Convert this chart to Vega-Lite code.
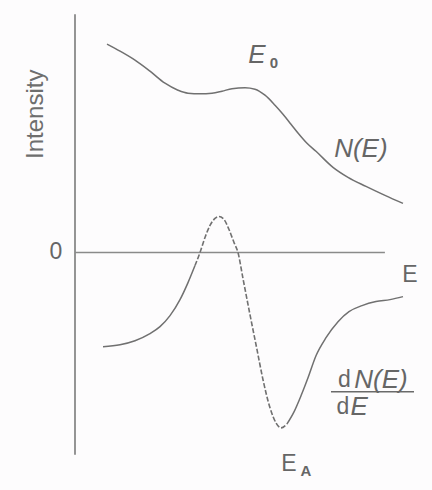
{
  "$schema": "https://vega.github.io/schema/vega-lite/v6.json",
  "width": 432,
  "height": 490,
  "padding": 0,
  "autosize": {"type": "none"},
  "background": "#fdfcfd",
  "config": {"view": {"stroke": null}},
  "datasets": {
    "spectrum": [
      {"E": 1.067, "I": 6.933}, {"E": 1.5, "I": 6.7}, {"E": 2.0, "I": 6.4},
      {"E": 2.5, "I": 6.033}, {"E": 3.0, "I": 5.633}, {"E": 3.433, "I": 5.4},
      {"E": 3.767, "I": 5.3}, {"E": 4.167, "I": 5.283}, {"E": 4.567, "I": 5.3},
      {"E": 4.9, "I": 5.367}, {"E": 5.233, "I": 5.45}, {"E": 5.667, "I": 5.483},
      {"E": 6.0, "I": 5.433}, {"E": 6.333, "I": 5.233}, {"E": 6.667, "I": 4.9},
      {"E": 6.933, "I": 4.6}, {"E": 7.2, "I": 4.267}, {"E": 7.467, "I": 3.933},
      {"E": 7.733, "I": 3.633}, {"E": 8.033, "I": 3.367}, {"E": 8.6, "I": 2.833},
      {"E": 9.1, "I": 2.5}, {"E": 9.7, "I": 2.2}, {"E": 10.333, "I": 1.9},
      {"E": 10.933, "I": 1.633}
    ],
    "derivative": [
      {"E": 0.933, "I": -3.133}, {"E": 1.5, "I": -3.067}, {"E": 2.0, "I": -2.933},
      {"E": 2.5, "I": -2.7}, {"E": 2.833, "I": -2.467}, {"E": 3.167, "I": -2.1},
      {"E": 3.5, "I": -1.567}, {"E": 3.767, "I": -1.0}, {"E": 4.0, "I": -0.433},
      {"E": 4.167, "I": 0}, {"E": 4.333, "I": 0.5}, {"E": 4.5, "I": 0.9},
      {"E": 4.667, "I": 1.133}, {"E": 4.8, "I": 1.2}, {"E": 4.967, "I": 1.1},
      {"E": 5.133, "I": 0.767}, {"E": 5.3, "I": 0.333}, {"E": 5.433, "I": 0},
      {"E": 5.6, "I": -0.867}, {"E": 5.833, "I": -2.067}, {"E": 6.067, "I": -3.233},
      {"E": 6.267, "I": -4.233}, {"E": 6.5, "I": -5.167}, {"E": 6.7, "I": -5.667},
      {"E": 6.867, "I": -5.833}, {"E": 7.067, "I": -5.7}, {"E": 7.3, "I": -5.3},
      {"E": 7.533, "I": -4.767}, {"E": 7.767, "I": -4.167}, {"E": 8.033, "I": -3.433},
      {"E": 8.367, "I": -2.833}, {"E": 8.767, "I": -2.3}, {"E": 9.133, "I": -1.967},
      {"E": 9.567, "I": -1.767}, {"E": 10.033, "I": -1.633}, {"E": 10.5, "I": -1.567},
      {"E": 10.933, "I": -1.467}
    ],
    "italicLabels": [
      {"text": "E", "E": 6.067, "I": 6.567},
      {"text": "N(E)", "E": 9.53, "I": 3.433},
      {"text": "N(E)", "E": 10.2, "I": -4.25},
      {"text": "E", "E": 9.47, "I": -5.15}
    ],
    "uprightLabels": [
      {"text": "E", "E": 11.167, "I": -0.733},
      {"text": "0", "E": -0.633, "I": 0.033},
      {"text": "d", "E": 8.98, "I": -4.25},
      {"text": "d", "E": 8.93, "I": -5.15},
      {"text": "E", "E": 7.13, "I": -7.03}
    ],
    "subscripts": [
      {"text": "0", "E": 6.633, "I": 6.3},
      {"text": "A", "E": 7.7, "I": -7.27}
    ]
  },
  "layer": [
    {
      "data": {"values": [{"E": 0, "Ilow": -6.73, "Ihigh": 7.93}]},
      "mark": {"type": "rule", "color": "#7a7a7a", "strokeWidth": 1.6},
      "encoding": {
        "x": {"field": "E", "type": "quantitative", "scale": {"domain": [-2.5, 11.9], "nice": false, "zero": false}, "axis": null},
        "y": {"field": "Ilow", "type": "quantitative", "scale": {"domain": [-7.9, 8.4], "nice": false, "zero": false}, "axis": null},
        "y2": {"field": "Ihigh"}
      }
    },
    {
      "data": {"values": [{"Estart": 0, "Eend": 10.33, "I": 0}]},
      "mark": {"type": "rule", "color": "#8a8a8a", "strokeWidth": 1.3},
      "encoding": {
        "x": {"field": "Estart", "type": "quantitative"},
        "x2": {"field": "Eend"},
        "y": {"field": "I", "type": "quantitative"}
      }
    },
    {
      "data": {"values": [{"Estart": 8.533, "Eend": 11.3, "I": -4.63}]},
      "mark": {"type": "rule", "color": "#6a6a6a", "strokeWidth": 1.4},
      "encoding": {
        "x": {"field": "Estart", "type": "quantitative"},
        "x2": {"field": "Eend"},
        "y": {"field": "I", "type": "quantitative"}
      }
    },
    {
      "data": {"name": "spectrum"},
      "mark": {"type": "line", "color": "#707070", "strokeWidth": 1.5, "interpolate": "monotone"},
      "encoding": {
        "x": {"field": "E", "type": "quantitative"},
        "y": {"field": "I", "type": "quantitative"}
      }
    },
    {
      "data": {"name": "derivative"},
      "transform": [{"filter": "datum.E <= 4.0"}],
      "mark": {"type": "line", "color": "#707070", "strokeWidth": 1.5, "interpolate": "monotone"},
      "encoding": {
        "x": {"field": "E", "type": "quantitative"},
        "y": {"field": "I", "type": "quantitative"}
      }
    },
    {
      "data": {"name": "derivative"},
      "transform": [{"filter": "datum.E >= 4.0 && datum.E <= 7.067"}],
      "mark": {"type": "line", "color": "#707070", "strokeWidth": 1.6, "strokeDash": [5, 2], "interpolate": "monotone"},
      "encoding": {
        "x": {"field": "E", "type": "quantitative"},
        "y": {"field": "I", "type": "quantitative"}
      }
    },
    {
      "data": {"name": "derivative"},
      "transform": [{"filter": "datum.E >= 7.067"}],
      "mark": {"type": "line", "color": "#707070", "strokeWidth": 1.5, "interpolate": "monotone"},
      "encoding": {
        "x": {"field": "E", "type": "quantitative"},
        "y": {"field": "I", "type": "quantitative"}
      }
    },
    {
      "data": {"name": "italicLabels"},
      "mark": {"type": "text", "font": "Liberation Sans", "fontStyle": "italic", "fontSize": 26, "color": "#666666", "align": "center", "baseline": "middle"},
      "encoding": {
        "x": {"field": "E", "type": "quantitative"},
        "y": {"field": "I", "type": "quantitative"},
        "text": {"field": "text"}
      }
    },
    {
      "data": {"name": "uprightLabels"},
      "mark": {"type": "text", "font": "Liberation Sans", "fontSize": 23, "color": "#666666", "align": "center", "baseline": "middle"},
      "encoding": {
        "x": {"field": "E", "type": "quantitative"},
        "y": {"field": "I", "type": "quantitative"},
        "text": {"field": "text"}
      }
    },
    {
      "data": {"name": "subscripts"},
      "mark": {"type": "text", "font": "Liberation Sans", "fontWeight": "bold", "fontSize": 15, "color": "#666666", "align": "center", "baseline": "middle"},
      "encoding": {
        "x": {"field": "E", "type": "quantitative"},
        "y": {"field": "I", "type": "quantitative"},
        "text": {"field": "text"}
      }
    },
    {
      "data": {"values": [{"text": "Intensity", "E": -1.3, "I": 4.6}]},
      "mark": {"type": "text", "font": "Liberation Sans", "fontSize": 24, "angle": 270, "color": "#6e6e6e", "align": "center", "baseline": "middle"},
      "encoding": {
        "x": {"field": "E", "type": "quantitative"},
        "y": {"field": "I", "type": "quantitative"},
        "text": {"field": "text"}
      }
    }
  ]
}
